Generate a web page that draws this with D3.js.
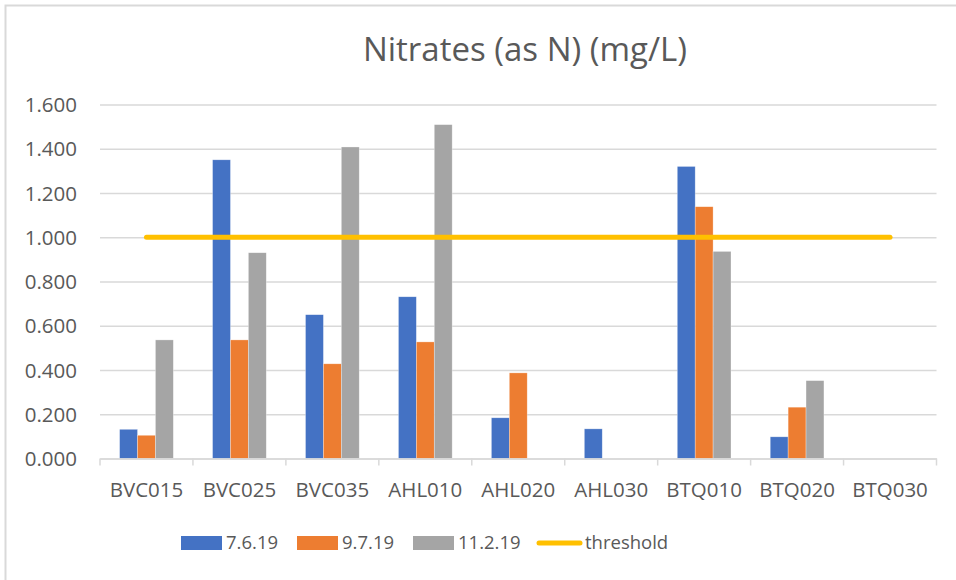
<!DOCTYPE html>
<html>
<head>
<meta charset="utf-8">
<script src="https://cdnjs.cloudflare.com/ajax/libs/d3/7.8.5/d3.min.js"></script>
<style>
  html, body { margin: 0; padding: 0; background: #fff; }
  svg { display: block; }
  text { font-family: "Open Sans", "Noto Sans", sans-serif; fill: #595959; }
</style>
</head>
<body>
<svg id="chart" width="956" height="580"></svg>
<script>
const categories = ["BVC015","BVC025","BVC035","AHL010","AHL020","AHL030","BTQ010","BTQ020","BTQ030"];
const seriesNames = ["7.6.19","9.7.19","11.2.19"];
const s1 = [0.132, 1.350, 0.650, 0.731, 0.184, 0.134, 1.320, 0.098, null];
const s2 = [0.105, 0.536, 0.428, 0.527, 0.387, null, 1.138, 0.232, null];
const s3 = [0.536, 0.930, 1.408, 1.509, null, null, 0.936, 0.352, null];
const threshold = [1, 1, 1, 1, 1, 1, 1, 1, 1];
const yTicks = [0, 0.2, 0.4, 0.6, 0.8, 1.0, 1.2, 1.4, 1.6];
const title = "Nitrates (as N) (mg/L)";

const colors = ["#4472C4", "#ED7D31", "#A5A5A5"];
const thresholdColor = "#FFC000";

const svg = d3.select("#chart");
const plot = { left: 100, right: 936.5, top: 104.5, bottom: 458.5 };

// chart border
svg.append("rect").attr("x", 5.5).attr("y", 5.5).attr("width", 980).attr("height", 600)
  .attr("fill", "none").attr("stroke", "#d9d9d9").attr("stroke-width", 2);

// title
svg.append("text").attr("x", 525).attr("y", 61)
  .attr("text-anchor", "middle").style("font-size", "33px").text(title);

const x0 = d3.scaleBand().domain(categories).range([plot.left, plot.right]).paddingInner(0).paddingOuter(0);
const y = d3.scaleLinear().domain([0, 1.6]).range([plot.bottom, plot.top]);

const gap = 2.19;
const bw = x0.bandwidth();
const barW = bw / (3 + gap);
const groupPad = (bw - 3 * barW) / 2;
const x1 = d3.scaleBand().domain(seriesNames).range([groupPad, bw - groupPad]).padding(0);

// gridlines + y labels
const yAxis = d3.axisLeft(y).tickValues(yTicks).tickFormat(d3.format(".3f"))
  .tickSize(-(plot.right - plot.left)).tickPadding(23);
const gy = svg.append("g").attr("transform", `translate(${plot.left},0)`).call(yAxis);
gy.select(".domain").remove();
gy.selectAll(".tick line").attr("stroke", "#d9d9d9").attr("stroke-width", 1.3);
gy.selectAll(".tick text").style("font-size", "20.5px").attr("fill", "#595959").attr("dy", "0.35em");

// bars
const allSeries = [s1, s2, s3];
allSeries.forEach((vals, si) => {
  svg.append("g").selectAll("rect")
    .data(categories.map((c, i) => ({ c, v: vals[i] })).filter(d => d.v != null && d.v > 0))
    .join("rect")
    .attr("x", d => x0(d.c) + x1(seriesNames[si]))
    .attr("y", d => y(d.v))
    .attr("width", x1.bandwidth())
    .attr("height", d => y(0) - y(d.v))
    .attr("fill", colors[si])
    .attr("stroke", "#ffffff").attr("stroke-opacity", 0.5).attr("stroke-width", 0.6);
});

// x axis
const xAxis = d3.axisBottom(x0).tickSize(0).tickPadding(24);
const gx = svg.append("g").attr("transform", `translate(0,${plot.bottom})`).call(xAxis);
gx.select(".domain").attr("stroke", "#d9d9d9").attr("stroke-width", 1.5);
gx.selectAll(".tick text").style("font-size", "20.5px").attr("fill", "#595959");
const bounds = categories.map(c => x0(c)).concat([plot.right]);
gx.selectAll(".bt").data(bounds).join("line").attr("class", "bt")
  .attr("x1", d => d).attr("x2", d => d).attr("y1", 0).attr("y2", 7)
  .attr("stroke", "#d9d9d9").attr("stroke-width", 1.5);

// threshold line
const line = d3.line().x((d, i) => x0(categories[i]) + bw / 2).y(d => y(d));
svg.append("path").datum(threshold).attr("d", line)
  .attr("fill", "none").attr("stroke", thresholdColor).attr("stroke-width", 5)
  .attr("stroke-linecap", "round");

// legend
const legY = 543;
const legItems = [
  { name: seriesNames[0], type: "rect", color: colors[0], x: 181 },
  { name: seriesNames[1], type: "rect", color: colors[1], x: 297 },
  { name: seriesNames[2], type: "rect", color: colors[2], x: 413 },
  { name: "threshold", type: "line", color: thresholdColor, x: 537 }
];
const lg = svg.append("g");
legItems.forEach(it => {
  if (it.type === "rect") {
    lg.append("rect").attr("x", it.x).attr("y", legY - 7).attr("width", 41).attr("height", 14).attr("fill", it.color);
    lg.append("text").attr("x", it.x + 45).attr("y", legY).attr("dy", "0.35em").style("font-size", "18.5px").text(it.name);
  } else {
    lg.append("line").attr("x1", it.x + 2).attr("x2", it.x + 43).attr("y1", legY).attr("y2", legY)
      .attr("stroke", it.color).attr("stroke-width", 5).attr("stroke-linecap", "round");
    lg.append("text").attr("x", it.x + 48).attr("y", legY).attr("dy", "0.35em").style("font-size", "18.5px").text(it.name);
  }
});
</script>
</body>
</html>
